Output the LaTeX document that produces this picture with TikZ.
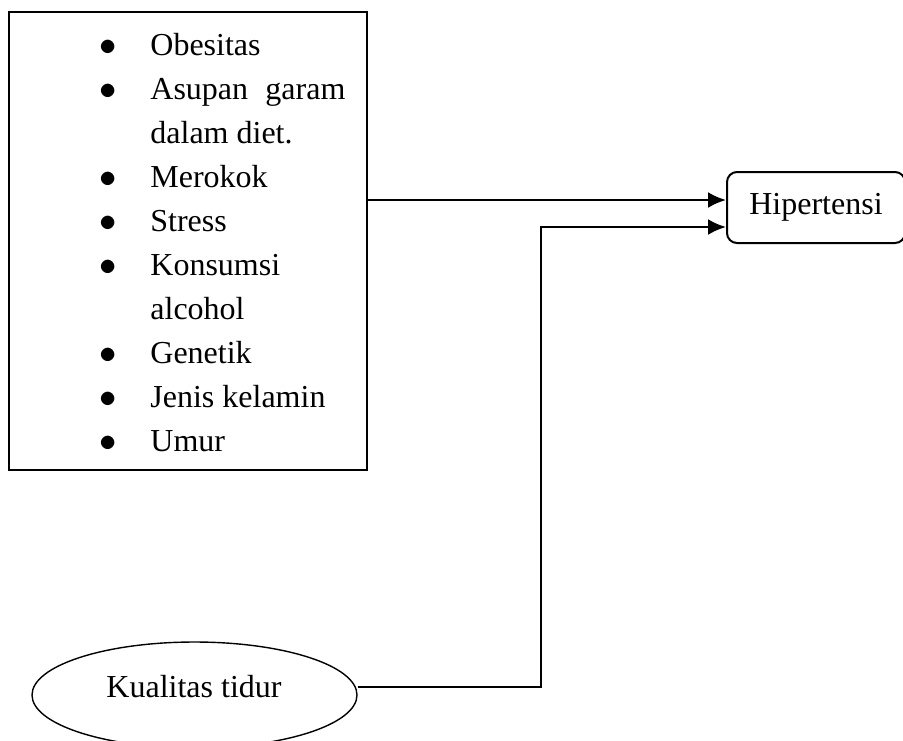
\documentclass[tikz,border=0pt]{standalone}
\usepackage{fontspec}
\setmainfont{Liberation Serif}
\usepackage{enumitem}
\usepackage{tikz}
\usetikzlibrary{shapes,arrows,positioning,calc,arrows.meta}

\begin{document}
\begin{tikzpicture}[x=0.5pt, y=-0.5pt,
        box/.style={draw, rectangle, line width=1pt, minimum width=179pt, minimum height=229pt, inner sep=0pt},
        outcome/.style={draw, rectangle, rounded corners=5pt, line width=1pt, minimum width=89pt, minimum height=35.5pt, inner sep=0pt},
        oval/.style={draw, ellipse, line width=0.7pt, minimum width=162.5pt, minimum height=53pt, inner sep=0pt},
        arrow/.style={-{Latex[length=9pt,width=8pt]}, line width=1.2pt}
    ]
        \useasboundingbox (0,0) rectangle (903,740);
        \fontsize{16}{22}\selectfont

        % Risk factors
        \node (factors) [box] at (188,241) {};
        \node (list) [anchor=base west, inner sep=0pt] at (150,55) {%
            \begin{minipage}[t]{97.5pt}
            \fontsize{16}{22}\selectfont\hyphenpenalty=10000\tolerance=9999
            \begin{itemize}[label=$\bullet$, leftmargin=0pt, labelsep=17pt, itemsep=0pt, topsep=0pt, parsep=0pt, partopsep=0pt]
                \item Obesitas
                \item Asupan garam dalam diet.
                \item Merokok
                \item Stress
                \item Konsumsi alcohol
                \item Genetik
                \item Jenis kelamin
                \item Umur
            \end{itemize}
            \end{minipage}};

        % Outcome
        \node (hip) [outcome] at (816,207.5) {Hipertensi};
        \coordinate (inhigh) at ($(hip.west)+(0,-7.5)$);
        \coordinate (inlow) at ($(hip.west)+(0,19.5)$);

        % Sleep quality
        \node (kual) [oval] at (194.5,695) {};
        \node (kualtext) at (194,687) {Kualitas tidur};
        \coordinate (kout) at ($(kual.east)+(0,-8)$);
        \coordinate (kink) at (541,0);

        % Connectors
        \draw [arrow] (factors.east |- inhigh) -- (inhigh);
        \draw [arrow] (kout) -| (kink |- inlow) -- (inlow);
    \end{tikzpicture}
\end{document}
